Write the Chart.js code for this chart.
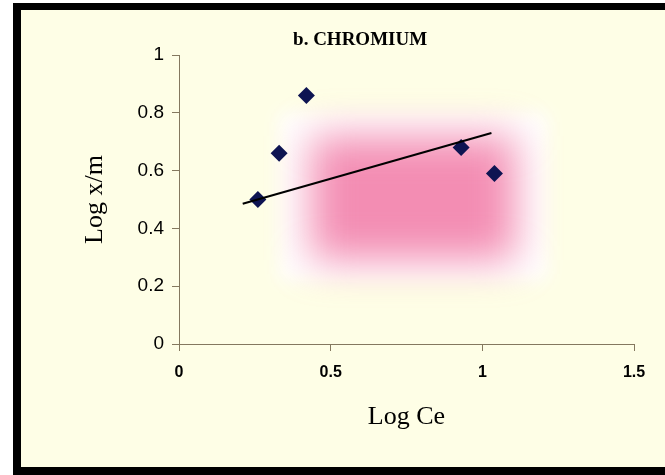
<!DOCTYPE html>
<html>
<head>
<meta charset="utf-8">
<script src="https://cdn.jsdelivr.net/npm/chart.js@4.4.1/dist/chart.umd.min.js"></script>
<style>
  html, body { margin:0; padding:0; width:665px; height:475px; overflow:hidden; background:#ffffff; }
  #frame { position:absolute; left:13px; top:3px; width:700px; height:457px; background:#fefee6;
           border-left:8px solid #000; border-top:7px solid #000; border-bottom:8px solid #000; }
  #wrap  { position:absolute; left:0; top:0; width:665px; height:475px; }
</style>
</head>
<body>
<div id="frame"></div>
<div id="wrap"><canvas id="chart" width="665" height="475"></canvas></div>
<script>
/* ── data ──────────────────────────────────────── */
const logCe   = [0.26, 0.33, 0.42, 0.93, 1.04];
const logXm   = [0.50, 0.66, 0.86, 0.68, 0.59];
const trendCe = [0.21, 1.03];
const trendXm = [0.485, 0.73];
const xTicks  = [0, 0.5, 1, 1.5];
const yTicks  = [0, 0.2, 0.4, 0.6, 0.8, 1];
const chartTitle = "b. CHROMIUM";
const xTitle = "Log Ce";
const yTitle = "Log x/m";

const axisColor = "#84785f";

// pink glow patch behind the points
const glowPlugin = {
  id: "glow",
  beforeDatasetsDraw(chart) {
    const { ctx, chartArea: a } = chart;
    const W = a.right - a.left, H = a.bottom - a.top;
    ctx.save();
    ctx.filter = "blur(9px)";
    ctx.fillStyle = "#ffffff";
    ctx.fillRect(a.left + 0.22 * W, a.top + 0.2 * H, 0.59 * W, 0.58 * H);
    ctx.filter = "blur(20px)";
    ctx.fillStyle = "rgba(240,112,160,0.8)";
    ctx.fillRect(a.left + 0.29 * W, a.top + 0.28 * H, 0.45 * W, 0.43 * H);
    ctx.restore();
  }
};

// title sits left of the plot centre
const titlePlugin = {
  id: "offTitle",
  afterDraw(chart) {
    const { ctx, chartArea: a } = chart;
    ctx.save();
    ctx.font = "bold 19px 'Liberation Serif', 'Times New Roman', serif";
    ctx.fillStyle = "#000";
    ctx.textAlign = "center";
    ctx.textBaseline = "alphabetic";
    ctx.fillText(chartTitle, a.left + 0.398 * (a.right - a.left), 45);
    ctx.restore();
  }
};

new Chart(document.getElementById("chart").getContext("2d"), {
  type: "scatter",
  data: {
    datasets: [
      { type:"line", data: trendCe.map((x, i) => ({ x, y: trendXm[i] })),
        borderColor:"#000", borderWidth:2, pointRadius:0, fill:false },
      { data: logCe.map((x, i) => ({ x, y: logXm[i] })),
        pointStyle:"rectRot", pointRadius:8.5, backgroundColor:"#0e1452", borderColor:"#0e1452", borderWidth:0 }
    ]
  },
  options: {
    responsive:false, animation:false,
    layout:{ padding:{ left:0, right:31, top:55, bottom:0 } },
    plugins:{ legend:{ display:false }, tooltip:{ enabled:false }, title:{ display:false } },
    scales:{
      x:{
        type:"linear", min:0, max:1.5,
        afterBuildTicks: s => { s.ticks = xTicks.map(v => ({ value:v })); },
        afterFit: s => { s.height = 131; },
        border:{ color:axisColor, width:1 },
        grid:{ drawOnChartArea:false, color:axisColor, tickLength:7 },
        ticks:{ color:"#000", padding:12, maxRotation:0, font:{ family:"'Liberation Sans', Arial", size:16, weight:"bold" },
                callback: v => String(v) },
        title:{ display:true, text:xTitle, color:"#000", padding:{ top:0, bottom:42 },
                font:{ family:"'Liberation Serif', 'Times New Roman', serif", size:26 } }
      },
      y:{
        type:"linear", min:0, max:1,
        afterBuildTicks: s => { s.ticks = yTicks.map(v => ({ value:v })); },
        afterFit: s => { s.width = 179; },
        border:{ color:axisColor, width:1 },
        grid:{ drawOnChartArea:false, color:axisColor, tickLength:7 },
        ticks:{ color:"#000", padding:8, font:{ family:"'Liberation Sans', Arial", size:19 },
                callback: v => String(v) },
        title:{ display:true, text:yTitle, color:"#000", padding:{ top:80, bottom:0 },
                font:{ family:"'Liberation Serif', 'Times New Roman', serif", size:26 } }
      }
    }
  },
  plugins:[glowPlugin, titlePlugin]
});
</script>
</body>
</html>
